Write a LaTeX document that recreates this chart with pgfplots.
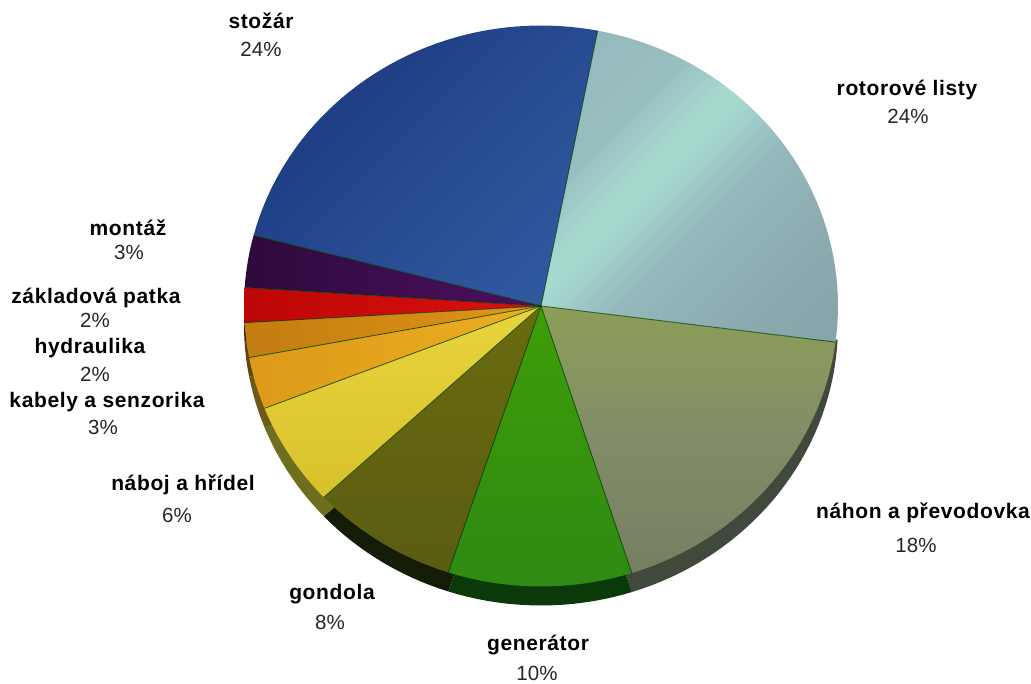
\documentclass[border=0pt]{standalone}
\usepackage{fontspec}
\setmainfont{Liberation Sans}
\newfontfamily\labelbold[LetterSpace=3]{Liberation Sans Bold}
\usepackage{pgfplots}
\pgfplotsset{compat=1.18}

\definecolor{rotA}{HTML}{829EA4}\definecolor{rotB}{HTML}{8AA8AE}\definecolor{rotC}{HTML}{94B8BC}
\definecolor{rotD}{HTML}{A6D8CE}\definecolor{rotE}{HTML}{98BEC0}\definecolor{rotF}{HTML}{90B2B8}
\definecolor{nahA}{HTML}{8C9E58}\definecolor{nahB}{HTML}{828C68}\definecolor{nahC}{HTML}{767E60}
\definecolor{genA}{HTML}{3F9C08}\definecolor{genB}{HTML}{2E8A12}
\definecolor{gonA}{HTML}{6A6B0E}\definecolor{gonB}{HTML}{5A5C12}
\definecolor{nabA}{HTML}{E8D43C}\definecolor{nabB}{HTML}{D8C22C}
\definecolor{kabA}{HTML}{DC9A18}\definecolor{kabB}{HTML}{ECAE22}
\definecolor{hydA}{HTML}{C27C10}\definecolor{hydB}{HTML}{E09618}
\definecolor{zakA}{HTML}{BE0606}\definecolor{zakB}{HTML}{DC1010}
\definecolor{monA}{HTML}{2E0A3C}\definecolor{monB}{HTML}{4C1060}
\definecolor{stoA}{HTML}{1C3A80}\definecolor{stoB}{HTML}{30589E}
\definecolor{sideNah}{HTML}{3F4A3C}\definecolor{sideGen}{HTML}{0B3A0A}
\definecolor{sideGon}{HTML}{131C06}\definecolor{sideNab}{HTML}{6F6E1E}
\definecolor{sideKab}{HTML}{6D5A16}\definecolor{sideHyd}{HTML}{5A4510}
\definecolor{sideZak}{HTML}{4A0808}

% Soft light band across the rotor-blade slice
\pgfdeclareverticalshading{rotorband}{100bp}{
  color(0bp)=(rotA);
  color(25bp)=(rotB);
  color(44bp)=(rotC);
  color(54bp)=(rotD);
  color(57bp)=(rotD);
  color(66bp)=(rotE);
  color(100bp)=(rotF)}

% Pie geometry: centre, radii, height of the rim, first boundary angle
\def\cx{541}\def\cy{306}\def\rx{297}\def\ry{280.5}\def\rim{19}

% Builds the outline of a wedge of #1 percent, running clockwise from \cur,
% moved down by #2, and leaves the angle of its far boundary in \curnext.
\newcommand\buildwedge[2]{%
  \pgfmathsetmacro\span{3.6*#1}%
  \pgfmathtruncatemacro\steps{ceil(\span/2)}%
  \pgfmathsetmacro\oy{\cy+#2}%
  \xdef\wedgepts{(\cx,\oy)}%
  \foreach \i in {0,...,\steps}{%
    \pgfmathsetmacro\a{\cur-\span*\i/\steps}%
    \pgfmathsetmacro\px{\cx+\rx*cos(\a)}%
    \pgfmathsetmacro\py{\oy-\ry*sin(\a)}%
    \xdef\wedgepts{\wedgepts (\px,\py)}%
  }%
  \xdef\wedgepts{\wedgepts (\cx,\oy)}%
  \pgfmathsetmacro\curnext{\cur-\span}%
  \xdef\curnext{\curnext}%
}
% Rim of a slice: the wedge moved down, painted before the top faces
\newcommand\rimslice[2]{%
  \buildwedge{#1}{\rim}%
  \edef\tmp{\noexpand\addplot[draw=none,fill=#2] coordinates {\wedgepts};}\tmp
  \xdef\cur{\curnext}%
}
% Top face of a slice
\newcommand\topslice[2]{%
  \buildwedge{#1}{0}%
  \edef\tmp{\noexpand\addplot[draw=none,\unexpanded{#2}] coordinates {\wedgepts};}\tmp
  \xdef\cur{\curnext}%
}
% Thin dark line along the starting boundary of a slice
\newcommand\boundary[1]{%
  \pgfmathsetmacro\px{\cx+\rx*cos(\cur)}%
  \pgfmathsetmacro\py{\cy-\ry*sin(\cur)}%
  \edef\tmp{\noexpand\addplot[draw=black!75!green,opacity=.7,line width=.9pt] coordinates {(\cx,\cy) (\px,\py)};}\tmp
  \pgfmathsetmacro\tmpa{\cur-3.6*#1}\xdef\cur{\tmpa}%
}
% Two-line label: name in bold, share below it
\newcommand\pielabel[6]{%
  \node[anchor=base,inner sep=0pt] at (axis cs:#1,#2) {\fontsize{21}{25}\selectfont\labelbold #3};
  \node[anchor=base,inner sep=0pt,text=black!85] at (axis cs:#4,#5) {\fontsize{20.5}{25}\selectfont #6};
}

\begin{document}
\begin{tikzpicture}
\begin{axis}[
  hide axis, scale only axis, clip=false,
  width=1031pt, height=684pt,
  xmin=0, xmax=1031, ymin=0, ymax=684, y dir=reverse,
  no markers,
]
  % rim, clockwise; the gearbox rim starts where it leaves the top face
  \xdef\cur{-3}
  \rimslice{19.22}{sideNah}
  \rimslice{10}{sideGen}
  \rimslice{8}{sideGon}
  \rimslice{6}{sideNab}
  \rimslice{3}{sideKab}
  \rimslice{2}{sideHyd}
  \rimslice{2}{sideZak}

  % top faces
  \xdef\cur{79}
  \topslice{24}{shade,shading=rotorband,shading angle=45}
  \topslice{18}{top color=nahA,bottom color=nahC,middle color=nahB}
  \topslice{10}{top color=genA,bottom color=genB}
  \topslice{8}{top color=gonA,bottom color=gonB}
  \topslice{6}{top color=nabA,bottom color=nabB}
  \topslice{3}{top color=kabB,bottom color=kabA,shading angle=-90}
  \topslice{2}{top color=hydB,bottom color=hydA,shading angle=-90}
  \topslice{2}{top color=zakB,bottom color=zakA,shading angle=-90}
  \topslice{3}{top color=monB,bottom color=monA,shading angle=-90}
  \topslice{24}{top color=stoA,bottom color=stoB,shading angle=45}

  % boundaries between the slices
  \xdef\cur{79}
  \boundary{24}\boundary{18}\boundary{10}\boundary{8}\boundary{6}
  \boundary{3}\boundary{2}\boundary{2}\boundary{3}\boundary{24}

  \pielabel{907}{96}{rotorové listy}{908}{124}{24\%}
  \pielabel{923}{518}{náhon a převodovka}{916}{552}{18\%}
  \pielabel{538}{650}{generátor}{537}{680}{10\%}
  \pielabel{332}{599}{gondola}{330}{629}{8\%}
  \pielabel{183}{490}{náboj a hřídel}{177}{522}{6\%}
  \pielabel{107}{408}{kabely a senzorika}{103}{435}{3\%}
  \pielabel{90}{354}{hydraulika}{95}{382}{2\%}
  \pielabel{96}{304}{základová patka}{95}{328}{2\%}
  \pielabel{128}{236}{montáž}{129}{260}{3\%}
  \pielabel{261}{29}{stožár}{261}{57}{24\%}
\end{axis}
\pgfresetboundingbox
\path[use as bounding box] (0,0) rectangle (1031pt,684pt);
\end{tikzpicture}
\end{document}
